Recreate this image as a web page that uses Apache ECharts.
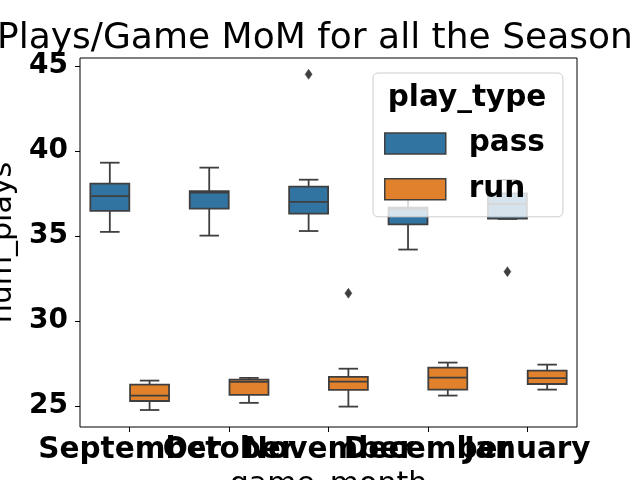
<!DOCTYPE html>
<html>
<head>
<meta charset="utf-8">
<script src="https://cdn.jsdelivr.net/npm/echarts@6/dist/echarts.min.js"></script>
<style>html,body{margin:0;padding:0;background:#fff}#c{width:640px;height:480px}</style>
</head>
<body>
<div id="c"></div>
<script>
// ---- data ----
const months = ['September', 'October', 'November', 'December', 'January'];
// [low whisker, Q1, median, Q3, high whisker]
const passStats = [
  [35.24, 36.47, 37.34, 38.08, 39.31],
  [35.02, 36.61, 37.55, 37.63, 39.02],
  [35.29, 36.31, 37.00, 37.90, 38.31],
  [34.20, 35.68, 36.60, 36.66, 37.90],
  [36.00, 36.02, 36.88, 37.50, 38.30]
];
const runStats = [
  [24.76, 25.29, 25.61, 26.25, 26.49],
  [25.18, 25.65, 26.41, 26.55, 26.65],
  [24.96, 25.94, 26.43, 26.71, 27.19],
  [25.61, 25.96, 26.67, 27.25, 27.55],
  [25.96, 26.29, 26.63, 27.08, 27.43]
];
// outliers: [month index, value]
const passOutliers = [[2, 44.51], [4, 32.9]];
const runOutliers = [[2, 31.63]];
const yTicks = [25, 30, 35, 40, 45];

// ---- style ----
const PASS = '#3274a1', RUN = '#e1812c', GRAY = '#3f3f3f', LW = 1.8;
const FONT = 'DejaVu Sans';

function boxRender(offsetFrac, color) {
  return function (params, api) {
    const cat = api.value(0);
    const band = api.size([1, 0])[0];
    const cx = api.coord([cat, 30])[0] + offsetFrac * band;
    const hw = 0.392 * band / 2;
    const y = i => api.coord([cat, api.value(i)])[1];
    const yLow = y(1), yQ1 = y(2), yMed = y(3), yQ3 = y(4), yHigh = y(5);
    const ls = { stroke: GRAY, lineWidth: LW };
    return {
      type: 'group', children: [
        { type: 'line', shape: { x1: cx, y1: yQ3, x2: cx, y2: yHigh }, style: ls },
        { type: 'line', shape: { x1: cx, y1: yQ1, x2: cx, y2: yLow }, style: ls },
        { type: 'line', shape: { x1: cx - hw / 2, y1: yHigh, x2: cx + hw / 2, y2: yHigh }, style: ls },
        { type: 'line', shape: { x1: cx - hw / 2, y1: yLow, x2: cx + hw / 2, y2: yLow }, style: ls },
        { type: 'rect', shape: { x: cx - hw, y: yQ3, width: 2 * hw, height: yQ1 - yQ3 }, style: { fill: color, stroke: GRAY, lineWidth: LW } },
        { type: 'line', shape: { x1: cx - hw, y1: yMed, x2: cx + hw, y2: yMed }, style: ls }
      ]
    };
  };
}
function outlierRender(offsetFrac) {
  return function (params, api) {
    const cat = api.value(0);
    const band = api.size([1, 0])[0];
    const p = api.coord([cat, api.value(1)]);
    const cx = p[0] + offsetFrac * band, cy = p[1];
    return {
      type: 'polygon',
      shape: { points: [[cx, cy - 5], [cx + 3.5, cy], [cx, cy + 5], [cx - 3.5, cy]] },
      style: { fill: GRAY, stroke: GRAY, lineWidth: 0.5 }
    };
  };
}

const chart = echarts.init(document.getElementById('c'), null, { renderer: 'canvas' });
chart.setOption({
  animation: false,
  backgroundColor: '#fff',
  title: {
    text: 'Plays/Game MoM for all the Season',
    left: -3, top: 16, padding: [5, 0, 5, 0],
    textStyle: { fontFamily: FONT, fontSize: 36, fontWeight: 'normal', color: '#000' }
  },
  grid: { left: 80, right: 63, top: 58, bottom: 53, show: true, borderColor: '#000', borderWidth: 1, backgroundColor: 'transparent', outerBoundsMode: 'none', containLabel: false },
  legend: {
    orient: 'vertical', left: 373, top: 73,
    padding: [55.5, 18, 12.5, 11],
    backgroundColor: 'rgba(255,255,255,0.8)', borderColor: '#cccccc', borderWidth: 1, borderRadius: 5,
    itemWidth: 61, itemHeight: 21, itemGap: 15.8,
    textStyle: { fontFamily: FONT, fontSize: 29.5, fontWeight: 'bold', color: '#000', padding: [0, 0, 0, 18] },
    data: [
      { name: 'pass', icon: 'rect', itemStyle: { color: PASS, borderColor: GRAY, borderWidth: 1.5 } },
      { name: 'run', icon: 'rect', itemStyle: { color: RUN, borderColor: GRAY, borderWidth: 1.5 } }
    ]
  },
  graphic: [
    { type: 'text', x: 467, y: 98, z: 100, style: { text: 'play_type', font: 'bold 29.5px "DejaVu Sans"', fill: '#000', align: 'center', verticalAlign: 'middle' } }
  ],
  xAxis: {
    type: 'category', data: months,
    name: 'game_month', nameLocation: 'middle', nameGap: 41,
    nameTextStyle: { fontFamily: FONT, fontSize: 30, color: '#000' },
    axisLine: { show: false },
    axisTick: { show: true, alignWithLabel: true, length: 5, lineStyle: { color: '#000', width: 1 } },
    axisLabel: { interval: 0, margin: 8, fontFamily: FONT, fontSize: 29.5, fontWeight: 'bold', color: '#000', hideOverlap: false },
    splitLine: { show: false }
  },
  yAxis: {
    type: 'value', min: 23.76, max: 45.47,
    name: 'num_plays', nameLocation: 'middle', nameGap: 58, nameRotate: 90,
    nameTextStyle: { fontFamily: FONT, fontSize: 30, color: '#000' },
    axisLine: { show: false },
    axisTick: { show: true, length: 5, customValues: yTicks, lineStyle: { color: '#000', width: 1 } },
    axisLabel: { customValues: yTicks, margin: 12, fontFamily: FONT, fontSize: 28, fontWeight: 'bold', color: '#000' },
    splitLine: { show: false }
  },
  series: [
    {
      name: 'pass', type: 'custom', renderItem: boxRender(-0.2, PASS),
      itemStyle: { color: PASS, borderColor: GRAY },
      encode: { x: 0, y: [1, 2, 3, 4, 5] },
      data: passStats.map((s, i) => [i].concat(s))
    },
    {
      name: 'run', type: 'custom', renderItem: boxRender(0.2, RUN),
      itemStyle: { color: RUN, borderColor: GRAY },
      encode: { x: 0, y: [1, 2, 3, 4, 5] },
      data: runStats.map((s, i) => [i].concat(s))
    },
    {
      name: 'pass outliers', type: 'custom', renderItem: outlierRender(-0.2),
      itemStyle: { color: GRAY }, encode: { x: 0, y: 1 }, data: passOutliers
    },
    {
      name: 'run outliers', type: 'custom', renderItem: outlierRender(0.2),
      itemStyle: { color: GRAY }, encode: { x: 0, y: 1 }, data: runOutliers
    }
  ]
});
</script>
</body>
</html>
